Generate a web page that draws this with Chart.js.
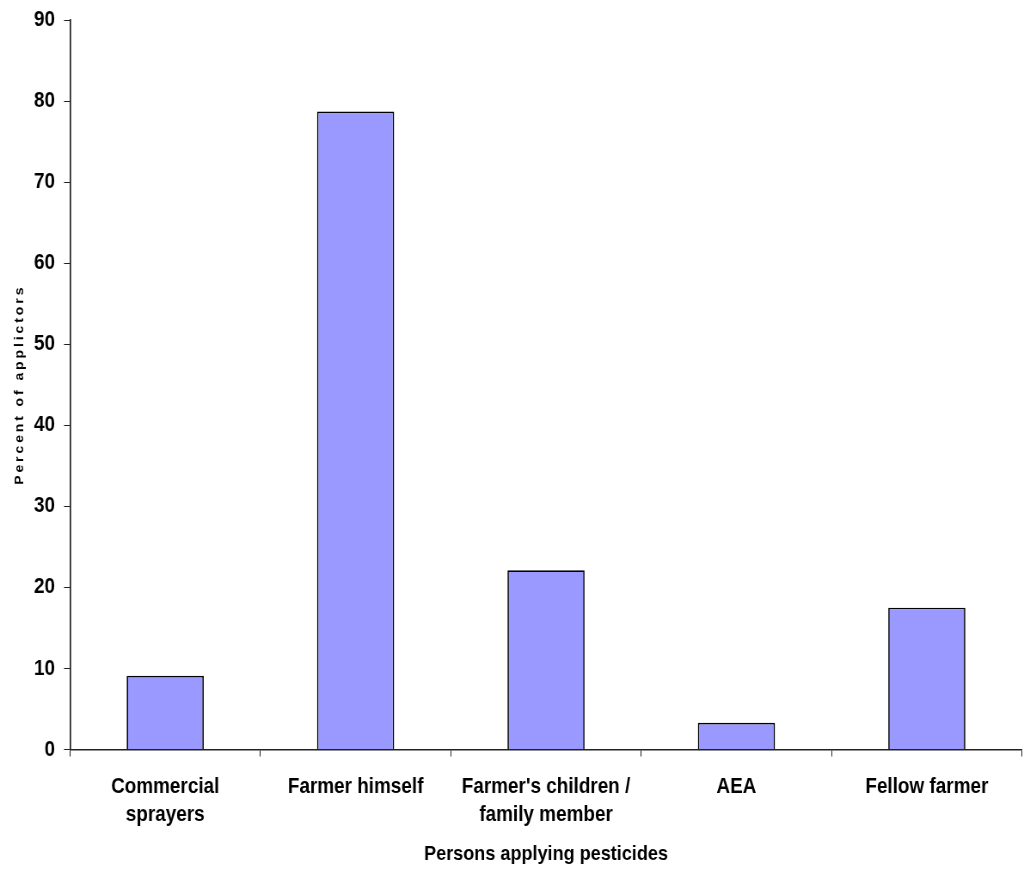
<!DOCTYPE html>
<html>
<head>
<meta charset="utf-8">
<script src="https://cdn.jsdelivr.net/npm/chart.js@4.4.1/dist/chart.umd.min.js"></script>
<style>
  html, body { margin: 0; padding: 0; background: #fff; }
  #wrap { width: 1024px; height: 869px; position: relative; overflow: hidden; }
  /* canvas is drawn wider and squeezed back to 1024px, giving narrow lettering */
  #chart { width: 1024px; height: 869px; display: block; }
</style>
</head>
<body>
<div id="wrap"><canvas id="chart" width="1191" height="869" style="width:1024px;height:869px"></canvas></div>
<script>
const categories = [
    ['Commercial', 'sprayers'],
    'Farmer himself',
    ["Farmer's children /", 'family member'],
    'AEA',
    'Fellow farmer'
];
const percentValues = [9.1, 78.7, 22.1, 3.3, 17.5];
const yTicks = [0, 10, 20, 30, 40, 50, 60, 70, 80, 90];

const yTitle = 'Percent of applictors';
const xTitle = 'Persons applying pesticides';

const fontFamily = '"Liberation Sans", Arial, sans-serif';
const xTickFont = { family: fontFamily, weight: 'bold', size: 22, lineHeight: 1.29 };
// small lineHeight keeps the top label from pushing the plot area down
const yTickFont = { family: fontFamily, weight: 'bold', size: 22, lineHeight: 0.7 };
const titleFont = { family: fontFamily, weight: 'bold', size: 21 };

// rotated y title with letter spacing (Chart.js has no option for it)
const yTitlePlugin = {
    id: 'yTitle',
    afterDraw(chart) {
        const ctx = chart.ctx;
        const area = chart.chartArea;
        ctx.save();
        ctx.translate(23.3, (area.top + area.bottom) / 2);
        ctx.rotate(-Math.PI / 2);
        ctx.font = 'bold 14px ' + fontFamily;
        ctx.letterSpacing = '2.9px';
        ctx.fillStyle = '#000';
        ctx.textAlign = 'center';
        ctx.textBaseline = 'middle';
        ctx.fillText(yTitle, 0, 0);
        ctx.restore();
    }
};

Chart.defaults.font.family = fontFamily;
Chart.defaults.color = '#000';

new Chart(document.getElementById('chart'), {
    type: 'bar',
    data: {
        labels: categories,
        datasets: [{
            data: percentValues,
            backgroundColor: '#9999FF',
            borderColor: '#000',
            borderWidth: 1.7,
            categoryPercentage: 1,
            barPercentage: 0.405
        }]
    },
    options: {
        responsive: false,
        animation: false,
        devicePixelRatio: 1,
        layout: { padding: { top: 20, right: 2.3, left: 0, bottom: 0 } },
        plugins: {
            legend: { display: false },
            tooltip: { enabled: false }
        },
        scales: {
            x: {
                grid: { display: true, drawOnChartArea: false, drawTicks: true, tickLength: 7, color: '#222', offset: true },
                border: { color: '#222', width: 1.5 },
                ticks: { font: xTickFont, padding: 16, maxRotation: 0, autoSkip: false },
                title: { display: true, text: xTitle, font: titleFont, padding: { top: 0, bottom: 2 } },
                afterFit: s => { s.height = 119.5; }
            },
            y: {
                min: 0,
                max: 90,
                afterBuildTicks: s => { s.ticks = yTicks.map(v => ({ value: v })); },
                grid: { display: true, drawOnChartArea: false, drawTicks: true, tickLength: 7, color: '#222' },
                border: { color: '#222', width: 1.7 },
                ticks: { font: yTickFont, padding: 10.4 },
                afterFit: s => { s.width = 81.4; }
            }
        }
    },
    plugins: [yTitlePlugin]
});
</script>
</body>
</html>
